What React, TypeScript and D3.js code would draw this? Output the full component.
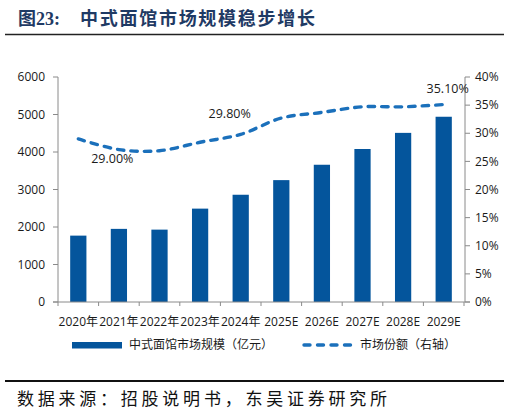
import React from "react";
import * as d3 from "d3";

// Categories and series
const categories = ["2020年", "2021年", "2022年", "2023年", "2024年", "2025E", "2026E", "2027E", "2028E", "2029E"];
const marketSize = [1770, 1950, 1930, 2490, 2860, 3250, 3660, 4080, 4510, 4940]; // 亿元
const marketShare = [0.29, 0.271, 0.269, 0.284, 0.298, 0.327, 0.337, 0.347, 0.347, 0.351];
const leftTicks = [0, 1000, 2000, 3000, 4000, 5000, 6000];
const rightTicks = [0, 0.05, 0.1, 0.15, 0.2, 0.25, 0.3, 0.35, 0.4];
// which share points carry a value label, with label offsets
const shareLabels = [
  { index: 0, dx: 34, dy: 24 },
  { index: 4, dx: -11, dy: -16 },
  { index: 9, dx: 4, dy: -12 },
];

const W = 510;
const H = 413;
const plot = { left: 58, right: 464, top: 77, bottom: 302 };

const BAR = "#04559c";
const LINE = "#1b70bb";
const AXIS = "#8a8a8a";
const TXT = "#1a1a1a";
const FONT = "'Open Sans', 'Noto Sans CJK SC', sans-serif";
const CJK = "'Noto Sans CJK SC', sans-serif";

export default function App() {
  const x = d3
    .scaleBand<string>()
    .domain(categories)
    .range([plot.left, plot.right])
    .paddingInner(0.6)
    .paddingOuter(0.3);
  const yL = d3.scaleLinear().domain([0, 6000]).range([plot.bottom, plot.top]);
  const yR = d3.scaleLinear().domain([0, 0.4]).range([plot.bottom, plot.top]);
  const cx = (c: string) => (x(c) as number) + x.bandwidth() / 2;

  const linePath = d3
    .line<number>()
    .x((_, i) => cx(categories[i]))
    .y((d) => yR(d))
    .curve(d3.curveCatmullRom.alpha(0.5))(marketShare) as string;

  const step = x.step();
  const tickXs = d3.range(categories.length + 1).map((i) => plot.left + i * step);

  return (
    <svg
      width={W}
      height={H}
      style={{ position: "absolute", left: 0, top: 0, background: "#fff" }}
      fontFamily={FONT}
    >
      <rect width={W} height={H} fill="#fff" />
      {/* title */}
      <text x={18} y={25} fill="#1f3a64" fontWeight="bold" fontSize={18}>
        <tspan fontFamily={CJK}>图</tspan>
        <tspan fontFamily="'Liberation Serif', serif">23:</tspan>
      </text>
      <text
        x={80}
        y={25}
        fill="#1f3a64"
        fontWeight="bold"
        fontSize={18}
        fontFamily={CJK}
        textLength={235}
        lengthAdjust="spacing"
      >
        中式面馆市场规模稳步增长
      </text>
      <line x1={5} x2={504} y1={34.5} y2={34.5} stroke="#222" strokeWidth={1.5} />

      {/* bars */}
      {categories.map((c, i) => (
        <rect
          key={c}
          x={x(c)}
          y={yL(marketSize[i])}
          width={x.bandwidth()}
          height={plot.bottom - yL(marketSize[i])}
          fill={BAR}
        />
      ))}

      {/* axes */}
      <line x1={plot.left} x2={plot.left} y1={plot.top} y2={plot.bottom} stroke={AXIS} />
      <line x1={plot.right + 1} x2={plot.right + 1} y1={plot.top} y2={plot.bottom} stroke={AXIS} />
      <line x1={plot.left - 5} x2={plot.right + 6} y1={plot.bottom} y2={plot.bottom} stroke={AXIS} />
      {leftTicks.map((t) => (
        <g key={"l" + t}>
          <line x1={plot.left - 5} x2={plot.left} y1={yL(t)} y2={yL(t)} stroke={AXIS} />
          <text x={45} y={yL(t)} dy="0.35em" textAnchor="end" fontSize={12} fill={TXT}>
            {t}
          </text>
        </g>
      ))}
      {rightTicks.map((t) => (
        <g key={"r" + t}>
          <line x1={plot.right + 1} x2={plot.right + 6} y1={yR(t)} y2={yR(t)} stroke={AXIS} />
          <text x={475} y={yR(t)} dy="0.35em" textAnchor="start" fontSize={12} fill={TXT}>
            {`${Math.round(t * 100)}%`}
          </text>
        </g>
      ))}
      {tickXs.map((tx, i) => (
        <line key={"x" + i} x1={tx} x2={tx} y1={plot.bottom} y2={plot.bottom + 4} stroke={AXIS} />
      ))}
      {categories.map((c) => (
        <text key={"xl" + c} x={cx(c)} y={326} textAnchor="middle" fontSize={12} fill={TXT}>
          {c}
        </text>
      ))}

      {/* share line */}
      <path
        d={linePath}
        fill="none"
        stroke={LINE}
        strokeWidth={3.4}
        strokeDasharray="6.5 7"
        strokeLinecap="round"
      />
      {shareLabels.map((l) => (
        <text
          key={"sl" + l.index}
          x={cx(categories[l.index]) + l.dx}
          y={yR(marketShare[l.index]) + l.dy}
          textAnchor="middle"
          fontSize={12.5}
          fill={TXT}
        >
          {(marketShare[l.index] * 100).toFixed(2) + "%"}
        </text>
      ))}

      {/* legend */}
      <rect x={72} y={342} width={50} height={6.5} fill={BAR} />
      <text x={129} y={345} dy="0.35em" fontSize={12} fill={TXT} fontFamily={CJK}>
        中式面馆市场规模（亿元）
      </text>
      <line
        x1={304}
        x2={352}
        y1={345}
        y2={345}
        stroke={LINE}
        strokeWidth={3.4}
        strokeDasharray="6 7.5"
        strokeLinecap="round"
      />
      <text x={360} y={345} dy="0.35em" fontSize={12} fill={TXT} fontFamily={CJK}>
        市场份额（右轴）
      </text>

      {/* source */}
      <line x1={5} x2={504} y1={381} y2={381} stroke="#111" strokeWidth={2} />
      <text
        x={17}
        y={405}
        fontSize={17}
        fill="#111"
        fontFamily={CJK}
        textLength={370}
        lengthAdjust="spacing"
      >
        数据来源：招股说明书，东吴证券研究所
      </text>
    </svg>
  );
}
